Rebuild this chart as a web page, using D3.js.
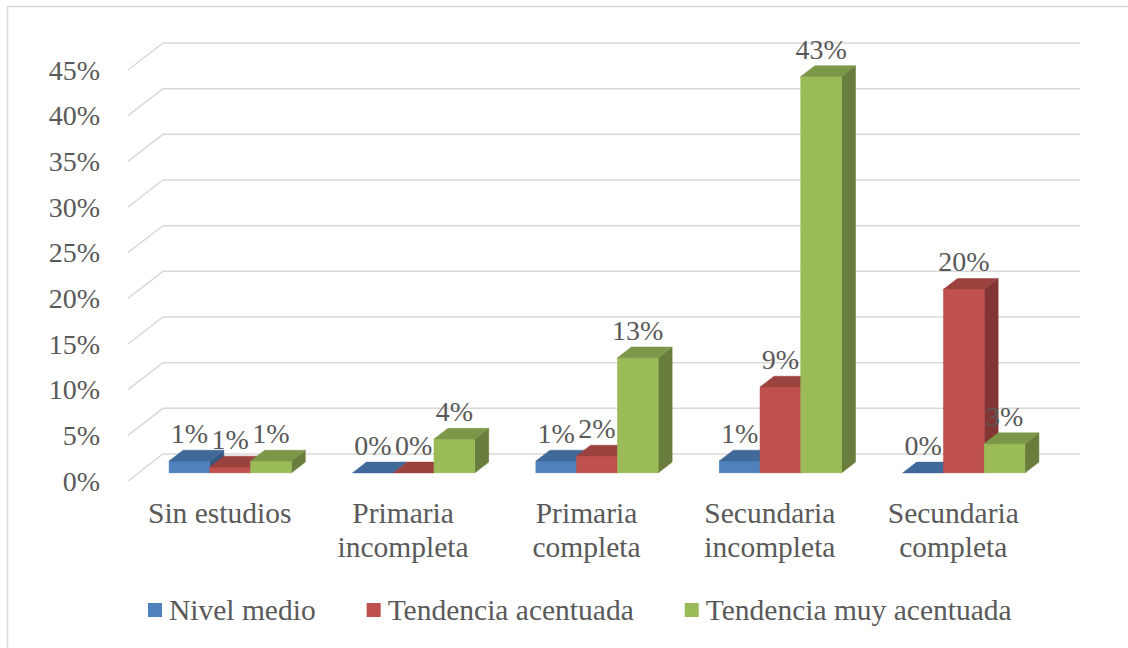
<!DOCTYPE html>
<html>
<head>
<meta charset="utf-8">
<script src="https://cdn.jsdelivr.net/npm/d3@7"></script>
<style>
  body { margin: 0; background: #fff; }
</style>
</head>
<body>
<div id="chart"></div>
<script>
// chart data
const categories = ["Sin estudios", "Primaria incompleta", "Primaria completa", "Secundaria incompleta", "Secundaria completa"];
const seriesNames = ["Nivel medio", "Tendencia acentuada", "Tendencia muy acentuada"];
const nivelMedio = [0.013, 0, 0.013, 0.013, 0];
const tendenciaAcentuada = [0.0065, 0, 0.0185, 0.094, 0.201];
const tendenciaMuyAcentuada = [0.013, 0.037, 0.126, 0.434, 0.032];
const yTicks = [0, 0.05, 0.10, 0.15, 0.20, 0.25, 0.30, 0.35, 0.40, 0.45];

const seriesColors = ["#4F81BD", "#C0504D", "#9BBB59"];
const allSeries = [nivelMedio, tendenciaAcentuada, tendenciaMuyAcentuada];

const width = 1128, height = 648;
const font = "Liberation Serif";
const textColor = "#595959";
const numSize = 28;    // tick + data labels
const wordSize = 29.5; // category + legend text

// 3d depth of the floor (front edge -> back wall)
const depthX = 35, depthY = 27;
const barFront = 0.3, barBack = 0.7;   // bar position inside the depth

const svg = d3.select("#chart").append("svg")
    .attr("width", width)
    .attr("height", height)
    .attr("font-family", font);

// outer frame (only left/top are inside the picture)
svg.append("rect")
    .attr("x", 7.5).attr("y", 6.5)
    .attr("width", 1200).attr("height", 700)
    .attr("fill", "none")
    .attr("stroke", "#d9d9d9")
    .attr("stroke-width", 1.5);

const x = d3.scaleBand().domain(categories).range([128, 1045]);
const y = d3.scaleLinear().domain([0, 0.45]).range([481, 70]);
const fmt = d3.format(".0%");

// gridlines: floor diagonal + back wall
svg.append("g")
    .attr("fill", "none")
    .attr("stroke", "#d9d9d9")
    .attr("stroke-width", 1.5)
  .selectAll("path")
  .data(yTicks)
  .join("path")
    .attr("d", d => {
      const yy = y(d);
      return `M${x.range()[0]},${yy}L${x.range()[0] + depthX},${yy - depthY}L${x.range()[1] + depthX},${yy - depthY}`;
    });

// y tick labels
svg.append("g")
    .attr("font-family", font)
    .attr("font-size", numSize)
    .attr("fill", textColor)
    .attr("text-anchor", "end")
  .selectAll("text")
  .data(yTicks)
  .join("text")
    .attr("x", 100)
    .attr("y", d => y(d))
    .attr("dy", "0.34em")
    .text(d => fmt(d));

// bars
const w = x.bandwidth() / 4.5;
const ox = barFront * depthX, oy = barFront * depthY;
const bdx = (barBack - barFront) * depthX, bdy = (barBack - barFront) * depthY;

const bars = [];
categories.forEach((c, ci) => {
  allSeries.forEach((s, si) => {
    bars.push({cat: c, series: si, value: s[ci]});
  });
});

const barG = svg.append("g").selectAll("g")
  .data(bars)
  .join("g");

barG.each(function(d) {
  const g = d3.select(this);
  const x0 = x(d.cat) + 0.75 * w + d.series * w + ox;
  const x1 = x0 + w;
  const yb = y(0) - oy;
  const yt = y(d.value) - oy;
  const base = d3.color(seriesColors[d.series]);
  const topC = base.darker(0.6).formatHex();
  const sideC = base.darker(1.1).formatHex();

  if (yb - yt > 0) {
    g.append("path")
        .attr("d", `M${x1},${yt}L${x1 + bdx},${yt - bdy}L${x1 + bdx},${yb - bdy}L${x1},${yb}Z`)
        .attr("fill", sideC).attr("stroke", sideC).attr("stroke-width", 0.5);
    g.append("rect")
        .attr("x", x0).attr("y", yt)
        .attr("width", w).attr("height", yb - yt)
        .attr("fill", base.formatHex()).attr("stroke", base.formatHex()).attr("stroke-width", 0.5);
  }
  g.append("path")
      .attr("d", `M${x0},${yt}L${x1},${yt}L${x1 + bdx},${yt - bdy}L${x0 + bdx},${yt - bdy}Z`)
      .attr("fill", topC).attr("stroke", topC).attr("stroke-width", 0.5);
});

// value labels
svg.append("g")
    .attr("font-family", font)
    .attr("font-size", numSize)
    .attr("fill", textColor)
    .attr("text-anchor", "middle")
  .selectAll("text")
  .data(bars)
  .join("text")
    .attr("x", d => x(d.cat) + 0.75 * w + d.series * w + ox + w / 2)
    .attr("y", d => y(d.value) - oy - 18)
    .text(d => fmt(d.value));

// category labels, wrapped to the band width
const catG = svg.append("g")
    .attr("font-family", font)
    .attr("font-size", wordSize)
    .attr("fill", textColor)
    .attr("text-anchor", "middle");

categories.forEach(c => {
  const cx = x(c) + x.bandwidth() / 2;
  const t = catG.append("text")
      .attr("x", cx)
      .attr("y", 523);
  const words = c.split(" ");
  let line = [];
  let tspan = t.append("tspan").attr("x", cx);
  words.forEach(wd => {
    line.push(wd);
    tspan.text(line.join(" "));
    if (tspan.node().getComputedTextLength() > x.bandwidth() - 30 && line.length > 1) {
      line.pop();
      tspan.text(line.join(" "));
      line = [wd];
      tspan = t.append("tspan")
          .attr("x", cx)
          .attr("dy", 34)
          .text(wd);
    }
  });
});

// legend
const legend = svg.append("g")
    .attr("font-family", font)
    .attr("font-size", wordSize)
    .attr("fill", textColor)
    .attr("transform", "translate(148,0)");

let lx = 0;
seriesNames.forEach((name, i) => {
  const g = legend.append("g");
  g.append("rect")
      .attr("x", 0).attr("y", 603)
      .attr("width", 14).attr("height", 14)
      .attr("fill", seriesColors[i]);
  const t = g.append("text")
      .attr("x", 21).attr("y", 620)
      .text(name);
  const len = 21 + t.node().getComputedTextLength();
  g.attr("transform", `translate(${lx},0)`);
  lx += len + 51;
});
</script>
</body>
</html>
